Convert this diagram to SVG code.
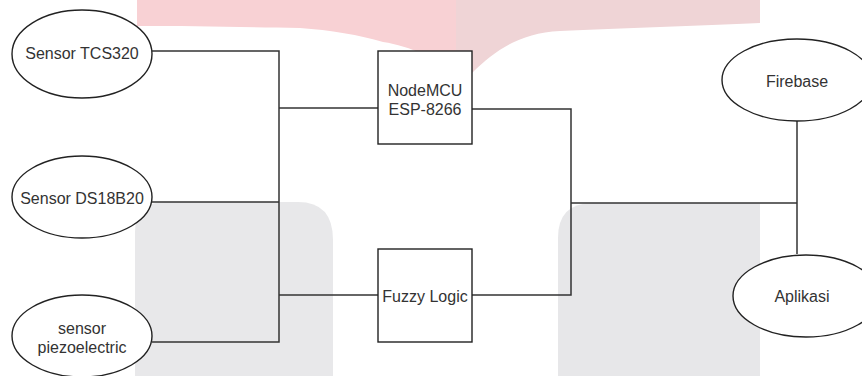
<svg xmlns="http://www.w3.org/2000/svg" width="862" height="376" viewBox="0 0 862 376">
<style>
.node{fill:#ffffff;stroke:#222;stroke-width:1.4}
.lbl{font-family:"Liberation Sans",Arial,sans-serif;font-size:16px;fill:#333;text-anchor:middle;dominant-baseline:central}
.wire{fill:none;stroke:#333;stroke-width:1.5}
</style>
<rect width="862" height="376" fill="#ffffff"/>
<g id="watermark">
<path d="M137,0 H456 V73 C440,60 410,46 383,42 C360,35 330,30 300,28 C240,27 190,26 137,26 Z" fill="#f8d1d4"/>
<path d="M456,0 H760 V23 C700,26 620,28 560,31 C520,33 495,50 472,73 L456,73 Z" fill="#efd4d6"/>
<path d="M135,376 V232 Q135,202 165,202 H298 Q333,202 333,240 V376 Z" fill="#e8e8ea"/>
<path d="M558,376 V238 Q558,203 593,203 H760 V376 Z" fill="#e7e7e9"/>
</g>
<g id="connectors">
<polyline class="wire" points="152,51 279,51 279,342 152,342"/>
<line class="wire" x1="152" y1="202" x2="279" y2="202"/>
<line class="wire" x1="279" y1="108" x2="378" y2="108"/>
<line class="wire" x1="279" y1="295" x2="378" y2="295"/>
<polyline class="wire" points="472,109 571,109 571,295 472,295"/>
<line class="wire" x1="571" y1="203" x2="797" y2="203"/>
<line class="wire" x1="797" y1="121" x2="797" y2="254"/>
</g>
<g id="sensor-tcs320">
<ellipse class="node" cx="82" cy="54" rx="70" ry="44"/>
<text class="lbl" x="82" y="53">Sensor TCS320</text>
</g>
<g id="sensor-ds18b20">
<ellipse class="node" cx="82" cy="197" rx="70" ry="41"/>
<text class="lbl" x="82" y="198">Sensor DS18B20</text>
</g>
<g id="sensor-piezo">
<ellipse class="node" cx="82" cy="336" rx="70" ry="41"/>
<text class="lbl" x="82" y="328">sensor</text>
<text class="lbl" x="82" y="347">piezoelectric</text>
</g>
<g id="nodemcu">
<rect class="node" x="378" y="51" width="94" height="93"/>
<text class="lbl" x="425" y="90">NodeMCU</text>
<text class="lbl" x="425" y="109">ESP-8266</text>
</g>
<g id="fuzzy">
<rect class="node" x="378" y="249" width="94" height="93"/>
<text class="lbl" x="425" y="296">Fuzzy Logic</text>
</g>
<g id="firebase">
<ellipse class="node" cx="797" cy="80" rx="75" ry="41"/>
<text class="lbl" x="797" y="81">Firebase</text>
</g>
<g id="aplikasi">
<ellipse class="node" cx="806" cy="296" rx="73" ry="41"/>
<text class="lbl" x="802" y="296">Aplikasi</text>
</g>
</svg>
